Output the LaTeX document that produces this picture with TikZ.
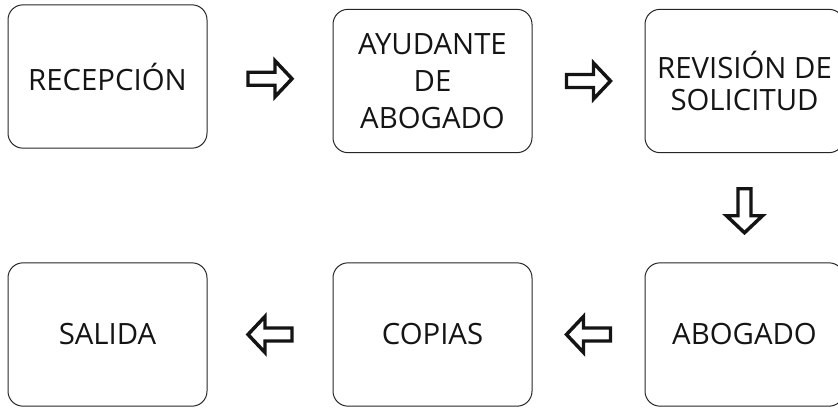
\documentclass[tikz,border=0pt]{standalone}
\usepackage{fontspec}
\setmainfont{Open Sans}
\usetikzlibrary{calc}

\tikzset{every picture/.style={line width=0.75pt}}
\tikzset{
  procbox/.style={draw=black!85, rounded corners=11.25pt, minimum width=149.25pt, minimum height=107.5pt,
    inner sep=0pt, align=center, text=black!92, font=\fontsize{22}{27.75}\selectfont},
  blockarrow/.pic={\draw[line width=2.6pt, line join=miter, draw=black!92]
    (-22,-6.5) -- (5,-6.5) -- (5,-18) -- (22,0) -- (5,18) -- (5,6.5) -- (-22,6.5) -- cycle;}
}

\begin{document}
\begin{tikzpicture}[x=0.75pt,y=0.75pt,yscale=-1,xscale=1]
\useasboundingbox (0,0) rectangle (838,407);

%Rounded Rect
\node[procbox] (recep) at (107.5,76.5) {RECEPCIÓN};
%Rounded Rect
\node[procbox] (ayud) at (432.5,81) {AYUDANTE\\DE\\ABOGADO};
%Rounded Rect
\node[procbox, font=\fontsize{22}{24}\selectfont] (revis) at (744.5,81) {REVISIÓN DE\\SOLICITUD};
%Rounded Rect
\node[procbox] (abog) at (744.5,334.5) {ABOGADO};
%Rounded Rect
\node[procbox] (copias) at (432.5,334.5) {COPIAS};
%Rounded Rect
\node[procbox] (salida) at (107.5,334.5) {SALIDA};

%Block Arrows
\pic at ($(recep.east)!0.5!(ayud.west)$) {blockarrow};
\pic at ($(ayud.east)!0.5!(revis.west)$) {blockarrow};
\pic[rotate=-90] at ($(revis.south)!0.5!(abog.north)+(0,3)$) {blockarrow};
\pic[rotate=180] at ($(abog.west)!0.5!(copias.east)$) {blockarrow};
\pic[rotate=180] at ($(copias.west)!0.5!(salida.east)$) {blockarrow};

\end{tikzpicture}
\end{document}
